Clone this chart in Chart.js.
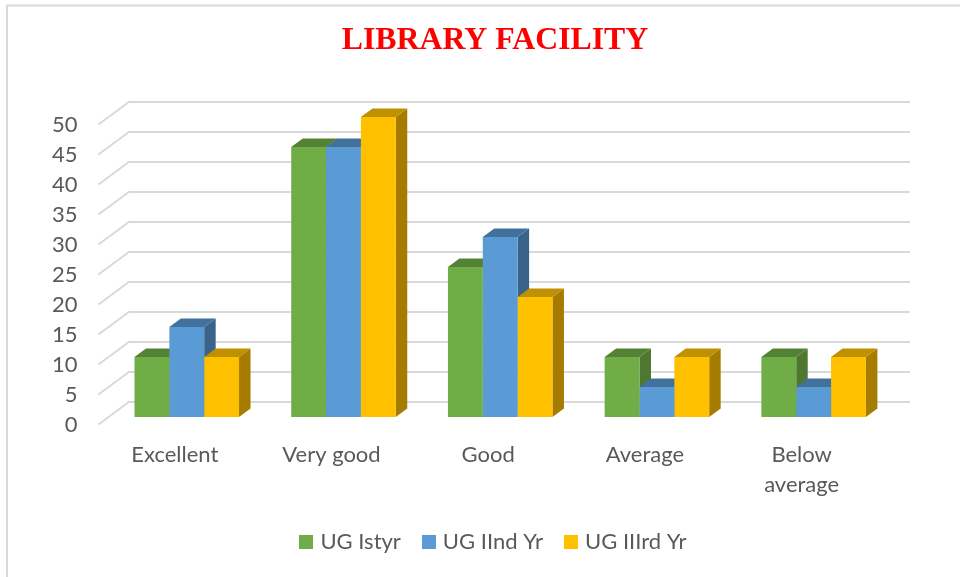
<!DOCTYPE html>
<html>
<head>
<meta charset="utf-8">
<title>Library Facility</title>
<script src="https://cdn.jsdelivr.net/npm/chart.js@4"></script>
<style>
  html, body { margin: 0; padding: 0; background: #fff; }
  #wrap { position: relative; width: 960px; height: 577px; }
</style>
</head>
<body>
<div id="wrap"><canvas id="library-chart"></canvas></div>
<script>
// Data
const categories = ["Excellent", "Very good", "Good", "Average", ["Below", "average"]];
const seriesNames = ["UG Istyr", "UG IInd Yr", "UG IIIrd Yr"];
const ugFirst = [10, 45, 25, 10, 10];
const ugSecond = [15, 45, 30, 5, 5];
const ugThird = [10, 50, 20, 10, 10];
const yMax = 50;
const yStep = 5;

// front, top, side colours for each series
const frontColors = ["#70AD47", "#5B9BD5", "#FFC000"];
const topColors = ["#548235", "#41719C", "#BF9000"];
const sideColors = ["#4E7830", "#3A6389", "#A67C00"];

const textColor = "#595959";
const gridColor = "#D9D9D9";

// 3D look: depth of the bars and of the walls behind them
const barDepth = { x: 11.5, y: 8.5 };
const wallBack = { x: 20.5, y: 15 };
const wallFront = { x: 10, y: 7.5 };
const wallRight = 18;

// Outer frame and grid drawn first
const wallsPlugin = {
  id: "walls",
  beforeDraw(chart) {
    const ctx = chart.ctx;
    ctx.save();
    ctx.strokeStyle = gridColor;
    ctx.lineWidth = 2;
    ctx.beginPath();
    ctx.moveTo(7, chart.height);
    ctx.lineTo(7, 5.5);
    ctx.lineTo(chart.width, 5.5);
    ctx.stroke();
    ctx.restore();
  },
  beforeDatasetsDraw(chart) {
    const { ctx, chartArea, scales } = chart;
    ctx.save();
    ctx.strokeStyle = gridColor;
    ctx.lineWidth = 2;
    scales.y.ticks.forEach((tick) => {
      const y = scales.y.getPixelForValue(tick.value);
      ctx.beginPath();
      ctx.moveTo(chartArea.left - wallFront.x, y + wallFront.y);
      ctx.lineTo(chartArea.left + wallBack.x, y - wallBack.y);
      ctx.lineTo(chartArea.right + wallRight, y - wallBack.y);
      ctx.stroke();
    });

    // side and top faces, the library draws the fronts over them
    chart.data.labels.forEach((label, i) => {
      chart.data.datasets.forEach((ds, d) => {
        const bar = chart.getDatasetMeta(d).data[i];
        const left = bar.x - bar.width / 2;
        const right = bar.x + bar.width / 2;
        ctx.fillStyle = sideColors[d];
        ctx.beginPath();
        ctx.moveTo(right, bar.y);
        ctx.lineTo(right + barDepth.x, bar.y - barDepth.y);
        ctx.lineTo(right + barDepth.x, bar.base - barDepth.y);
        ctx.lineTo(right, bar.base);
        ctx.closePath();
        ctx.fill();
        ctx.fillStyle = topColors[d];
        ctx.beginPath();
        ctx.moveTo(left, bar.y);
        ctx.lineTo(left + barDepth.x, bar.y - barDepth.y);
        ctx.lineTo(right + barDepth.x, bar.y - barDepth.y);
        ctx.lineTo(right, bar.y);
        ctx.closePath();
        ctx.fill();
      });
    });
    ctx.restore();
  },
};

// Legend swatch: 14px square as a point style, so the gap to the text stays small
function makeSwatch(color) {
  const swatch = document.createElement("canvas");
  swatch.width = 14;
  swatch.height = 14;
  const c = swatch.getContext("2d");
  c.fillStyle = color;
  c.fillRect(0, 0, 14, 14);
  return swatch;
}

const seriesValues = [ugFirst, ugSecond, ugThird];

new Chart(document.getElementById("library-chart"), {
  type: "bar",
  data: {
    labels: categories,
    datasets: seriesNames.map((name, i) => ({
      label: name,
      data: seriesValues[i],
      backgroundColor: frontColors[i],
      borderWidth: 0,
      categoryPercentage: 0.667,
      barPercentage: 1,
    })),
  },
  plugins: [wallsPlugin],
  options: {
    responsive: true,
    maintainAspectRatio: false,
    animation: false,
    layout: { padding: { left: 30, right: 0, top: 0, bottom: 14 } },
    scales: {
      x: {
        grid: { display: false },
        border: { display: false },
        afterFit(scale) { scale.height = 89; },
        ticks: {
          color: textColor,
          font: { family: "Lato", size: 22, lineHeight: 1.36 },
          labelOffset: -12,
          padding: 15,
          maxRotation: 0,
          autoSkip: false,
        },
      },
      y: {
        min: 0,
        max: yMax,
        grid: { display: false },
        border: { display: false },
        afterFit(scale) { scale.width = 78.4; },
        ticks: {
          stepSize: yStep,
          color: textColor,
          font: { family: "Lato", size: 22 },
          labelOffset: 8,
          padding: 23,
        },
      },
      // empty axis, only keeps the room to the right of the plot
      rightGap: {
        position: "right",
        grid: { display: false },
        border: { display: false },
        ticks: { display: false },
        afterFit(scale) { scale.width = 68; },
      },
    },
    plugins: {
      title: {
        display: true,
        text: "LIBRARY FACILITY",
        color: "#FF0000",
        font: { family: "Liberation Serif", size: 31.8, weight: "bold", lineHeight: 1.2 },
        padding: { top: 22, bottom: 56.84 },
      },
      legend: {
        position: "bottom",
        labels: {
          color: textColor,
          font: { family: "Lato", size: 22 },
          usePointStyle: true,
          pointStyleWidth: 6,
          padding: 25,
          generateLabels(chart) {
            return chart.data.datasets.map((ds, i) => ({
              text: ds.label,
              fontColor: textColor,
              pointStyle: makeSwatch(frontColors[i]),
              datasetIndex: i,
            }));
          },
        },
      },
      tooltip: { enabled: false },
    },
  },
});
</script>
</body>
</html>
